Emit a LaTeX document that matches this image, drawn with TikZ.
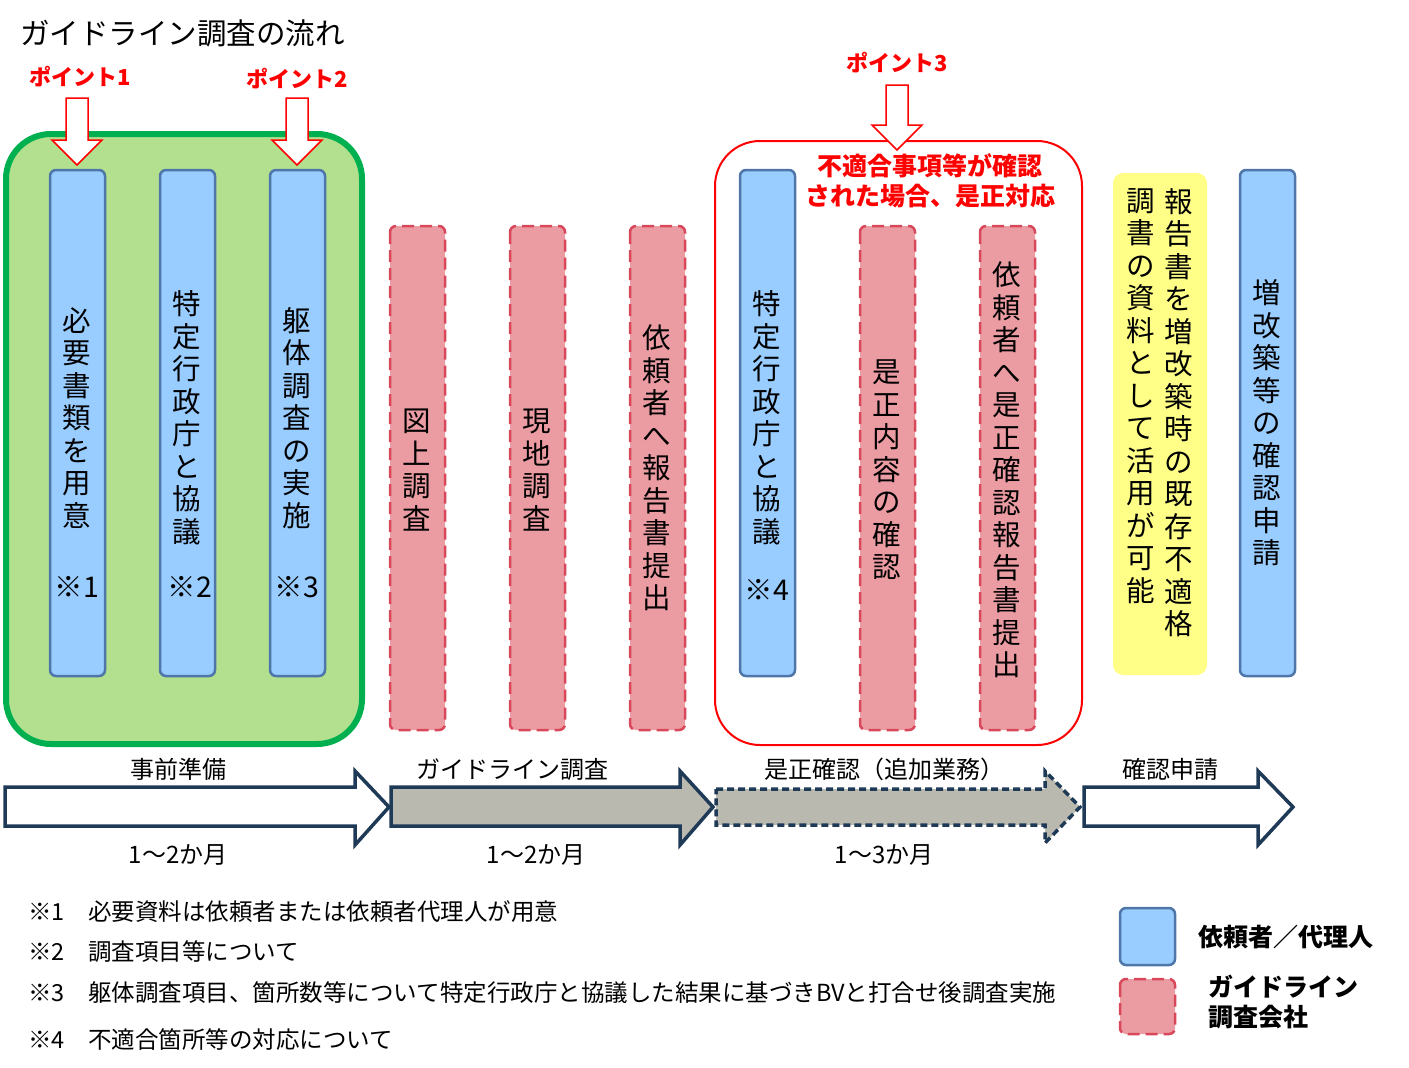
\documentclass[tikz,border=0pt]{standalone}
\usepackage{fontspec}
\setmainfont{Noto Sans CJK JP}
\begin{document}
\def\vtfirst#1{#1\vtloop}
\def\vtloop#1{\ifx\relax#1\else\\#1\expandafter\vtloop\fi}
\newcommand\vtext[1]{\vtfirst#1\relax}
\definecolor{bfill}{HTML}{99CCFF}\definecolor{bline}{HTML}{4F76A8}
\definecolor{pfill}{HTML}{EB9CA3}\definecolor{pline}{HTML}{D9475A}
\definecolor{gfill}{HTML}{B3E08F}\definecolor{gline}{HTML}{00B050}
\definecolor{navy}{HTML}{1F3A56}\definecolor{grayf}{HTML}{B9B9AF}
\definecolor{yfill}{HTML}{FFFF88}
\begin{tikzpicture}[x=1pt,y=-1pt,
  blue/.style={draw=bline,line width=2.5pt,fill=bfill,rounded corners=6pt},
  pink/.style={draw=pline,line width=2.5pt,dash pattern=on 12pt off 6pt,fill=pfill,rounded corners=6pt},
  vt/.style={font=\fontsize{28.5}{32.5}\selectfont,align=center,inner sep=0pt},
  note/.style={font=\fontsize{23.5}{28}\selectfont,anchor=west,inner sep=0pt},
  red/.style={text=red,font=\bfseries\fontsize{22}{29}\selectfont,inner sep=0pt,align=center},
  rtxt/.style={text=red,font=\bfseries\fontsize{25}{30}\selectfont,inner sep=0pt,align=center},
  lab/.style={font=\fontsize{24}{28}\selectfont,inner sep=0pt},
  big/.style={draw=navy,line width=3.5pt,line join=miter},
  pt/.style={draw=red,line width=1.5pt,fill=white}]
\useasboundingbox (0,0) rectangle (1409,1068);
\node[anchor=west,font=\fontsize{29.5}{34}\selectfont,inner sep=0pt] (title) at (20,33) {ガイドライン調査の流れ};
% green and red groups
\draw[draw=gline,fill=gfill,line width=6pt,rounded corners=45pt] (6,134) rectangle (362,744);
\draw[draw=red,line width=2pt,rounded corners=45pt] (715,141) rectangle (1082,745);
% bars
\foreach \n/\x in {b1/50,b2/160,b3/270,b4/740,b5/1240}
  \draw[blue] (\x,170) rectangle (\x+55,676) coordinate (\n);
\foreach \n/\x in {p1/390,p2/510,p3/630,p4/860,p5/980}
  \draw[pink] (\x,226) rectangle (\x+55,730) coordinate (\n);
\node[vt] (t1) at (77,418) {\vtext{必要書類を用意}};
\node[vt] (t2) at (187,418) {\vtext{特定行政庁と協議}};
\node[vt] (t3) at (297,418) {\vtext{躯体調査の実施}};
\node[vt] (t4) at (767,418) {\vtext{特定行政庁と協議}};
\node[vt] (t5) at (1267,423) {\vtext{増改築等の確認申請}};
\foreach \n/\x/\s in {s1/77/1,s2/190/2,s3/297/3}
  \node[vt] (\n) at (\x,587) {※\s};
\node[vt] (s4) at (767,590) {※4};
\node[vt] (u1) at (417,470) {\vtext{図上調査}};
\node[vt] (u2) at (537,470) {\vtext{現地調査}};
\node[vt] (u3) at (657,468) {\vtext{依頼者へ報告書提出}};
\node[vt] (u4) at (887,470) {\vtext{是正内容の確認}};
\node[vt] (u5) at (1007,470) {\vtext{依頼者へ是正確認報告書提出}};
% yellow
\fill[yfill,rounded corners=10pt] (1113,173) rectangle (1207,675);
\node[vt,anchor=north] (y1) at (1179,188) {\vtext{報告書を増改築時の既存不適格}};
\node[vt,anchor=north] (y2) at (1141,188) {\vtext{調書の資料として活用が可能}};
% points
\node[red] (pt1) at (80,77) {ポイント1};
\node[red] (pt2) at (297,79) {ポイント2};
\node[red] (pt3) at (897,63) {ポイント3};
\foreach \x/\a/\b in {77/98/165,297/98/165,897/85/150}
  \draw[pt] (\x-11,\a) -- (\x+11,\a) -- (\x+11,\b-25) -- (\x+25,\b-25) -- (\x,\b) -- (\x-25,\b-25) -- (\x-11,\b-25) -- cycle;
\node[rtxt] (rt) at (930,181) {不適合事項等が確認\\された場合、是正対応};
% big arrows
\draw[big,fill=white] (5,787) -- (355,787) -- (355,771) -- (389,807) -- (355,845) -- (355,826) -- (5,826) -- cycle;
\draw[big,fill=grayf] (391,787) -- (680,787) -- (680,771) -- (713,807) -- (680,845) -- (680,826) -- (391,826) -- cycle;
\draw[big,fill=grayf,dash pattern=on 7pt off 4pt] (716,789) -- (1045,789) -- (1045,771) -- (1080,807) -- (1045,843) -- (1045,825) -- (716,825) -- cycle;
\draw[big,fill=white] (1084,787) -- (1258,787) -- (1258,771) -- (1293,807) -- (1258,845) -- (1258,826) -- (1084,826) -- cycle;
\foreach \n/\x/\t in {l1/178/事前準備,l2/512/ガイドライン調査,l3/884/是正確認（追加業務）,l4/1170/確認申請}
  \node[lab] (\n) at (\x,769) {\t};
\foreach \n/\x/\t in {m1/178/1～2か月,m2/536/1～2か月,m3/884/1～3か月}
  \node[lab] (\n) at (\x,855) {\t};
% notes
\node[note] (n1) at (28,912) {※1\quad 必要資料は依頼者または依頼者代理人が用意};
\node[note] (n2) at (28,952) {※2\quad 調査項目等について};
\node[note] (n3) at (28,993) {※3\quad 躯体調査項目、箇所数等について特定行政庁と協議した結果に基づきBVと打合せ後調査実施};
\node[note] (n4) at (28,1040) {※4\quad 不適合箇所等の対応について};
% legend
\draw[blue] (1120,908) rectangle (1175,965);
\draw[pink] (1120,979) rectangle (1175,1034);
\node[anchor=west,font=\bfseries\fontsize{25}{28}\selectfont,inner sep=0pt] (g1) at (1198,937) {依頼者／代理人};
\node[anchor=west,font=\bfseries\fontsize{25}{30}\selectfont,inner sep=0pt,align=left] (g2) at (1208,1002) {ガイドライン\\調査会社};
\end{tikzpicture}
\end{document}
